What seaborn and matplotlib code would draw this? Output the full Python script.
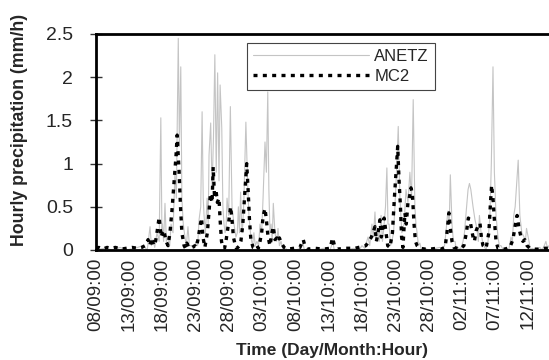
import pandas as pd
import seaborn as sns
import matplotlib.pyplot as plt
import matplotlib.dates as mdates
from matplotlib.ticker import FixedLocator

sns.set_style("white")
plt.rcParams["font.family"] = ["Liberation Sans", "DejaVu Sans"]

start = pd.Timestamp("1999-09-08 00:00")

# hours after 08/09 00:00 and hourly precipitation (mm/h)
anetz_hours = [0, 30, 60, 87, 110, 140, 170, 185, 195, 200, 206, 212, 220, 228, 234, 238,
               240, 244, 249, 254, 260, 266, 271, 278, 285, 290, 297, 301, 306, 310, 315, 321,
               326, 332, 337, 346, 352, 361, 367, 372, 378, 383, 387, 390, 395, 401, 405, 408,
               414, 419, 424, 429, 434, 439, 444, 448, 454, 458, 462, 466, 470, 473, 479, 485,
               491, 498, 505, 510, 514, 518, 522, 527, 530, 534, 541, 547, 552, 559, 565, 570,
               575, 581, 587, 592, 598, 603, 610, 615, 620, 624, 628, 632, 636, 640, 646, 652,
               657, 662, 668, 675, 682, 690, 720, 740, 747, 752, 800, 820, 845, 855, 860, 900,
               930, 950, 960, 970, 982, 988, 996, 1001, 1007, 1012, 1017, 1022, 1029, 1034, 1040, 1045,
               1050, 1054, 1058, 1063, 1068, 1074, 1079, 1086, 1091, 1097, 1104, 1112, 1119, 1126, 1133, 1139,
               1145, 1151, 1155, 1159, 1164, 1169, 1175, 1187, 1200, 1241, 1250, 1258, 1263, 1270, 1275, 1279,
               1285, 1290, 1296, 1301, 1307, 1315, 1325, 1330, 1335, 1339, 1343, 1348, 1353, 1357, 1361, 1368,
               1375, 1380, 1384, 1390, 1395, 1400, 1408, 1415, 1422, 1427, 1433, 1438, 1444, 1451, 1456, 1462,
               1470, 1480, 1490, 1498, 1503, 1508, 1513, 1517, 1524, 1530, 1537, 1545, 1550, 1554, 1560, 1563,
               1568, 1574, 1590, 1602, 1610, 1618, 1624, 1630, 1635]
anetz_mm = [0.0, 0.02, 0.0, 0.03, 0.0, 0.02, 0.05, 0.0, 0.27, 0.05, 0.12, 0.03, 0.2, 0.1, 1.53, 0.2,
            0.3, 0.1, 0.54, 0.1, 0.15, 0.05, 0.3, 0.2, 0.9, 0.6, 2.45, 1.2, 2.12, 0.6, 0.3, 0.15,
            0.05, 0.27, 0.05, 0.05, 0.0, 0.1, 0.05, 0.35, 0.5, 1.6, 0.6, 0.4, 0.2, 0.6, 0.3, 1.1,
            1.47, 0.7, 1.3, 2.26, 0.9, 2.05, 0.8, 1.91, 1.41, 0.5, 0.3, 0.2, 0.3, 0.6, 0.4, 1.66,
            0.5, 0.3, 0.15, 0.2, 0.5, 0.2, 0.67, 0.2, 0.3, 0.6, 1.48, 0.8, 0.4, 0.15, 0.05, 0.2,
            0.05, 0.1, 0.05, 0.3, 0.2, 0.6, 1.25, 0.9, 1.83, 0.7, 0.2, 0.3, 0.1, 0.54, 0.2, 0.1,
            0.25, 0.05, 0.1, 0.0, 0.03, 0.0, 0.0, 0.02, 0.08, 0.0, 0.0, 0.02, 0.0, 0.1, 0.0, 0.0,
            0.02, 0.0, 0.05, 0.02, 0.15, 0.05, 0.3, 0.15, 0.44, 0.1, 0.25, 0.1, 0.4, 0.1, 0.3, 0.5,
            0.95, 0.3, 0.3, 0.05, 0.1, 0.2, 0.5, 1.0, 1.43, 0.6, 0.2, 0.3, 0.7, 0.55, 0.9, 0.6,
            1.74, 0.5, 0.3, 0.2, 0.05, 0.08, 0.0, 0.02, 0.0, 0.03, 0.0, 0.05, 0.2, 0.45, 0.3, 0.87,
            0.3, 0.1, 0.1, 0.0, 0.03, 0.0, 0.1, 0.2, 0.4, 0.55, 0.7, 0.77, 0.7, 0.6, 0.5, 0.35,
            0.25, 0.1, 0.4, 0.2, 0.1, 0.05, 0.0, 0.1, 0.4, 1.0, 2.12, 0.9, 0.4, 0.15, 0.05, 0.05,
            0.0, 0.03, 0.0, 0.15, 0.1, 0.4, 0.5, 0.7, 1.04, 0.4, 0.2, 0.15, 0.1, 0.25, 0.15, 0.1,
            0.0, 0.02, 0.0, 0.03, 0.0, 0.05, 0.1, 0.02, 0.05]

mc2_hours = [0, 10, 24, 40, 55, 70, 90, 110, 130, 150, 165, 177, 188, 194, 201, 209,
             215, 220, 228, 235, 240, 245, 253, 260, 267, 274, 282, 289, 293, 300, 305, 310,
             318, 323, 328, 333, 339, 348, 357, 362, 368, 377, 381, 386, 393, 402, 408, 413,
             419, 423, 428, 433, 438, 444, 448, 453, 458, 464, 469, 478, 486, 491, 496, 503,
             507, 512, 518, 523, 530, 538, 544, 549, 554, 559, 567, 574, 581, 586, 592, 598,
             603, 610, 615, 621, 628, 635, 640, 646, 653, 658, 662, 669, 679, 693, 715, 736,
             748, 754, 762, 790, 820, 845, 854, 861, 870, 900, 935, 948, 960, 974, 985, 994,
             1000, 1007, 1012, 1018, 1025, 1030, 1035, 1040, 1047, 1053, 1061, 1070, 1077, 1083, 1089, 1094,
             1099, 1103, 1108, 1115, 1120, 1126, 1131, 1137, 1142, 1148, 1153, 1159, 1169, 1190, 1205, 1230,
             1245, 1260, 1267, 1274, 1279, 1285, 1292, 1314, 1328, 1337, 1344, 1350, 1355, 1361, 1366, 1372,
             1379, 1386, 1391, 1397, 1408, 1418, 1424, 1428, 1433, 1438, 1444, 1451, 1476, 1494, 1505, 1514,
             1520, 1527, 1534, 1541, 1548, 1556, 1566, 1585, 1602, 1620, 1635]
mc2_mm = [0.02, 0.03, 0.01, 0.03, 0.02, 0.03, 0.01, 0.02, 0.03, 0.02, 0.03, 0.05, 0.12, 0.05, 0.14, 0.05,
          0.1, 0.2, 0.38, 0.15, 0.2, 0.23, 0.1, 0.05, 0.2, 0.45, 0.8, 1.1, 1.33, 0.9, 0.5, 0.2,
          0.05, 0.02, 0.08, 0.04, 0.02, 0.03, 0.05, 0.03, 0.12, 0.3, 0.37, 0.15, 0.03, 0.2, 0.45, 0.65,
          0.55, 0.96, 0.6, 0.7, 0.55, 0.6, 0.35, 0.1, 0.03, 0.02, 0.1, 0.3, 0.5, 0.35, 0.15, 0.05,
          0.02, 0.03, 0.05, 0.1, 0.3, 0.7, 1.0, 0.7, 0.35, 0.12, 0.03, 0.02, 0.05, 0.02, 0.1, 0.2,
          0.39, 0.48, 0.35, 0.15, 0.05, 0.2, 0.27, 0.12, 0.14, 0.1, 0.14, 0.08, 0.03, 0.01, 0.02, 0.03,
          0.12, 0.05, 0.01, 0.02, 0.01, 0.02, 0.14, 0.05, 0.01, 0.02, 0.02, 0.03, 0.04, 0.05, 0.1, 0.15,
          0.2, 0.27, 0.1, 0.2, 0.35, 0.15, 0.25, 0.37, 0.2, 0.05, 0.03, 0.2, 0.6, 0.9, 1.2, 0.8,
          0.5, 0.15, 0.03, 0.43, 0.3, 0.55, 0.6, 0.72, 0.65, 0.3, 0.1, 0.05, 0.02, 0.01, 0.01, 0.02,
          0.01, 0.03, 0.2, 0.43, 0.25, 0.1, 0.03, 0.01, 0.05, 0.2, 0.37, 0.35, 0.25, 0.15, 0.1, 0.22,
          0.28, 0.31, 0.15, 0.05, 0.02, 0.2, 0.55, 0.75, 0.6, 0.35, 0.1, 0.02, 0.01, 0.03, 0.12, 0.3,
          0.4, 0.25, 0.15, 0.1, 0.12, 0.05, 0.02, 0.01, 0.01, 0.02, 0.02]

anetz = pd.DataFrame({"time": start + pd.to_timedelta(anetz_hours, unit="h"), "mm": anetz_mm})
mc2 = pd.DataFrame({"time": start + pd.to_timedelta(mc2_hours, unit="h"), "mm": mc2_mm})

fig = plt.figure(figsize=(5.49, 3.6), dpi=100)
ax = fig.add_axes([96 / 549, 110 / 360, 456 / 549, 216 / 360])

sns.lineplot(data=anetz, x="time", y="mm", ax=ax, color="#c4c4c4", linewidth=0.8,
             estimator=None, label="ANETZ")
sns.lineplot(data=mc2, x="time", y="mm", ax=ax, color="black", linewidth=2.4,
             linestyle=(0, (1.2, 1.6)), estimator=None, label="MC2")

ax.set_xlim(start, start + pd.Timedelta(hours=1646))
ax.set_ylim(0, 2.5)
ax.set_yticks([0, 0.5, 1, 1.5, 2, 2.5])
ax.set_yticklabels(["0", "0.5", "1", "1.5", "2", "2.5"])

major = pd.date_range(start, periods=14, freq="5D")
minor = pd.date_range(start, start + pd.Timedelta(hours=1646), freq="20h")
ax.xaxis.set_major_locator(FixedLocator(mdates.date2num(major)))
ax.xaxis.set_minor_locator(FixedLocator(mdates.date2num(minor)))
ax.xaxis.set_major_formatter(mdates.DateFormatter("%d/%m:%H"))

ax.tick_params(axis="x", which="both", direction="inout", length=7, width=1,
               color="#333333", labelsize=13.5, rotation=90, pad=2)
ax.tick_params(axis="y", direction="inout", length=9, width=1, color="#333333",
               labelsize=14, pad=12, left=True)

for side in ["top", "left", "bottom"]:
    ax.spines[side].set_color("black")
    ax.spines[side].set_linewidth(2)
ax.spines["right"].set_visible(False)

ax.set_xlabel("Time (Day/Month:Hour)", fontsize=12.5, fontweight="bold")
ax.set_ylabel("Hourly precipitation (mm/h)", fontsize=12.8, fontweight="bold")
ax.xaxis.label.set_va("center")
ax.xaxis.set_label_coords(332 / 549, 1 - 350 / 360, transform=fig.transFigure)
ax.yaxis.set_label_coords(28 / 549, 1 - 130 / 360, transform=fig.transFigure)

leg = ax.legend(loc="upper left", bbox_to_anchor=(0.331, 0.958), borderaxespad=0,
                fontsize=12, frameon=True, fancybox=False, framealpha=1,
                edgecolor="#444444", handlelength=7.0, handletextpad=0.3,
                borderpad=0.35, labelspacing=0.3)
leg.get_frame().set_linewidth(0.8)

fig.savefig("out.png", dpi=100)
